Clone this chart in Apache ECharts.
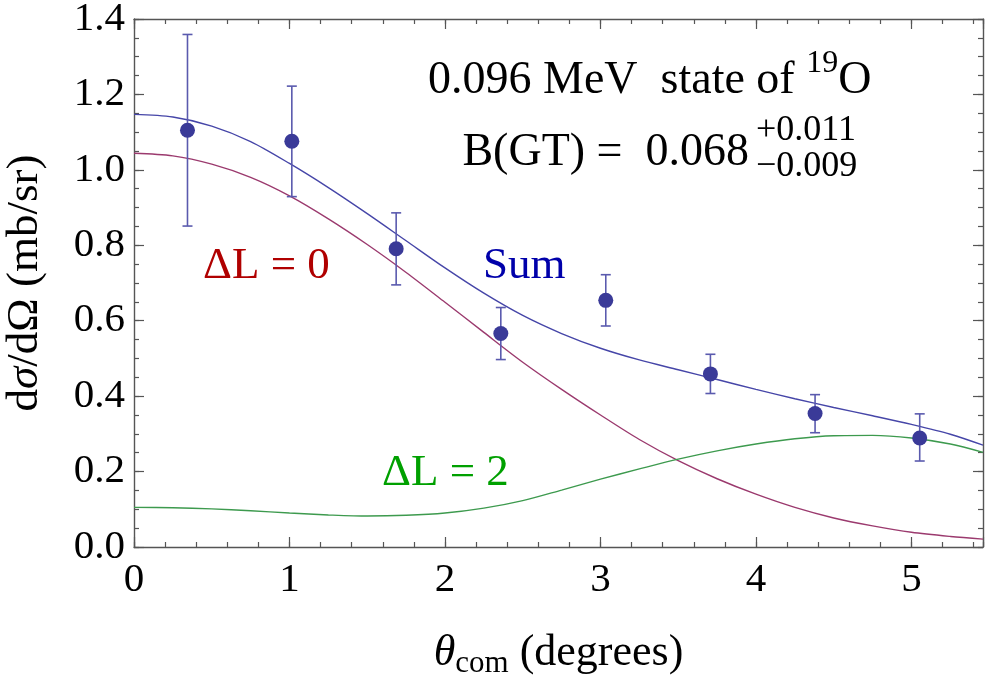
<!DOCTYPE html>
<html>
<head>
<meta charset="utf-8">
<script src="https://cdn.jsdelivr.net/npm/echarts@6/dist/echarts.min.js"></script>
<style>
html,body{margin:0;padding:0;background:#fff;}
#chart{width:986px;height:679px;}
</style>
</head>
<body>
<div id="chart"></div>
<script>
// ---- data ----
const angles   = [0.344, 1.015, 1.686, 2.359, 3.034, 3.707, 4.380, 5.053];
const xsec     = [1.105, 1.076, 0.791, 0.566, 0.654, 0.459, 0.354, 0.289];
const errHigh  = [1.359, 1.222, 0.886, 0.635, 0.722, 0.511, 0.404, 0.353];
const errLow   = [0.851, 0.929, 0.695, 0.497, 0.586, 0.407, 0.303, 0.228];

const curveX   = [0, 0.25, 0.5, 0.75, 1.0, 1.25, 1.5, 1.75, 2.0, 2.25, 2.5, 2.75, 3.0, 3.25, 3.5, 3.75, 4.0, 4.25, 4.5, 4.75, 5.0, 5.25, 5.46];
const sumY     = [1.147, 1.140, 1.116, 1.075, 1.017, 0.953, 0.884, 0.812, 0.740, 0.673, 0.614, 0.566, 0.527, 0.496, 0.470, 0.444, 0.418, 0.393, 0.370, 0.348, 0.325, 0.299, 0.270];
const dl0Y     = [1.044, 1.037, 1.015, 0.980, 0.931, 0.870, 0.802, 0.728, 0.649, 0.569, 0.490, 0.418, 0.350, 0.285, 0.229, 0.181, 0.140, 0.105, 0.077, 0.056, 0.039, 0.028, 0.021];
const dl2Y     = [0.105, 0.104, 0.101, 0.096, 0.090, 0.085, 0.082, 0.084, 0.090, 0.103, 0.123, 0.151, 0.180, 0.207, 0.233, 0.255, 0.273, 0.287, 0.295, 0.296, 0.289, 0.273, 0.251];

const xTicks = [0, 1, 2, 3, 4, 5];
const yTicks = [0.0, 0.2, 0.4, 0.6, 0.8, 1.0, 1.2, 1.4];

const FONT = 'Liberation Serif';
const AX = '#555555';

function pairs(xs, ys) { return xs.map((x, i) => [x, ys[i]]); }

const chart = echarts.init(document.getElementById('chart'), null, {renderer: 'canvas'});

function xAxisDef(pos, major, showLabel, withName) {
  const a = {
    type: 'value', position: pos, min: 0, max: 5.46,
    interval: major ? 1 : 0.2,
    axisLine: {show: major, onZero: false, lineStyle: {color: AX, width: 1.4}},
    axisTick: {show: true, inside: true, length: major ? 10 : 5, lineStyle: {color: AX, width: 1.2}},
    splitLine: {show: false},
    axisLabel: {show: showLabel, color: '#000', fontFamily: FONT, fontSize: 41, margin: 13,
      formatter: v => (xTicks.indexOf(v) >= 0 ? String(v) : '')}
  };
  if (withName) {
    a.name = '{i|θ}{s|com}{n| (degrees)}';
    a.nameLocation = 'middle';
    a.nameGap = 80;
    a.nameTextStyle = {
      rich: {
        i: {fontFamily: FONT, fontStyle: 'italic', fontSize: 44, color: '#000', lineHeight: 52, verticalAlign: 'middle'},
        s: {fontFamily: FONT, fontSize: 31, color: '#000', lineHeight: 31, verticalAlign: 'bottom'},
        n: {fontFamily: FONT, fontSize: 44, color: '#000', lineHeight: 52, verticalAlign: 'middle'}
      }
    };
  }
  return a;
}
function yAxisDef(pos, major, showLabel, withName) {
  const a = {
    type: 'value', position: pos, min: 0, max: 1.4,
    interval: major ? 0.2 : 0.05,
    axisLine: {show: major, onZero: false, lineStyle: {color: AX, width: 1.4}},
    axisTick: {show: true, inside: true, length: major ? 10 : 5, lineStyle: {color: AX, width: 1.2}},
    splitLine: {show: false},
    axisLabel: {show: showLabel, color: '#000', fontFamily: FONT, fontSize: 41, margin: 9,
      formatter: v => v.toFixed(1)}
  };
  if (withName) {
    a.name = '{n|d}{i|σ}{n|/dΩ (mb/sr)}';
    a.nameLocation = 'middle';
    a.nameGap = 86;
    a.nameRotate = 90;
    a.nameTextStyle = {
      rich: {
        i: {fontFamily: FONT, fontStyle: 'italic', fontSize: 45, color: '#000'},
        n: {fontFamily: FONT, fontSize: 45, color: '#000'}
      }
    };
  }
  return a;
}

function txt(opts) {
  return {type: 'text', left: opts.left, right: opts.right, top: opts.top, z: 10,
    style: {text: opts.text, fill: opts.color || '#000', fontFamily: FONT, fontSize: opts.size, rich: opts.rich}};
}

const option = {
  backgroundColor: '#ffffff',
  animation: false,
  grid: {left: 134, right: 3, top: 19, bottom: 132, containLabel: false, outerBoundsMode: 'none'},
  xAxis: [
    xAxisDef('bottom', true, true, true),
    xAxisDef('bottom', false, false, false),
    xAxisDef('top', true, false, false),
    xAxisDef('top', false, false, false)
  ],
  yAxis: [
    yAxisDef('left', true, true, true),
    yAxisDef('left', false, false, false),
    yAxisDef('right', true, false, false),
    yAxisDef('right', false, false, false)
  ],
  series: [
    {
      name: 'ΔL = 0', type: 'line', smooth: 0.3, showSymbol: false, symbol: 'none',
      data: pairs(curveX, dl0Y), lineStyle: {color: '#9b3a6e', width: 1.4}, z: 2
    },
    {
      name: 'ΔL = 2', type: 'line', smooth: 0.3, showSymbol: false, symbol: 'none',
      data: pairs(curveX, dl2Y), lineStyle: {color: '#3d9a4e', width: 1.4}, z: 2
    },
    {
      name: 'Sum', type: 'line', smooth: 0.3, showSymbol: false, symbol: 'none',
      data: pairs(curveX, sumY), lineStyle: {color: '#4646a8', width: 1.4}, z: 3
    },
    {
      name: 'errors', type: 'custom', z: 4,
      data: angles.map((a, i) => [a, errLow[i], errHigh[i]]),
      renderItem: function (params, api) {
        const x = api.value(0);
        const lo = api.coord([x, api.value(1)]);
        const hi = api.coord([x, api.value(2)]);
        const w = 5;
        const st = {stroke: '#5a5aae', lineWidth: 1.6};
        return {
          type: 'group',
          children: [
            {type: 'line', shape: {x1: lo[0], y1: lo[1], x2: hi[0], y2: hi[1]}, style: st},
            {type: 'line', shape: {x1: lo[0] - w, y1: lo[1], x2: lo[0] + w, y2: lo[1]}, style: st},
            {type: 'line', shape: {x1: hi[0] - w, y1: hi[1], x2: hi[0] + w, y2: hi[1]}, style: st}
          ]
        };
      }
    },
    {
      name: 'data', type: 'scatter', symbol: 'circle', symbolSize: 15, z: 5,
      data: pairs(angles, xsec), itemStyle: {color: '#3a3a98', opacity: 1}
    }
  ],
  graphic: [
    txt({left: 203, top: 244, text: 'ΔL = 0', color: '#b00000', size: 45}),
    txt({left: 483, top: 244, text: 'Sum', color: '#0000aa', size: 45}),
    txt({left: 382, top: 451, text: 'ΔL = 2', color: '#00a000', size: 45}),
    txt({left: 428, top: 48, text: '{a|0.096 MeV  state of }{p|19}{a|O}', size: 46,
      rich: {
        a: {fontFamily: FONT, fontSize: 46, fill: '#000', lineHeight: 56, verticalAlign: 'bottom'},
        p: {fontFamily: FONT, fontSize: 32, fill: '#000', lineHeight: 56, verticalAlign: 'top'}
      }}),
    txt({right: 986 - 749, top: 130, text: 'B(GT) =  0.068', size: 46}),
    txt({left: 756, top: 113, text: '+0.011', size: 36}),
    txt({left: 756, top: 149, text: '\u22120.009', size: 36})
  ]
};
chart.setOption(option);
</script>
</body>
</html>
